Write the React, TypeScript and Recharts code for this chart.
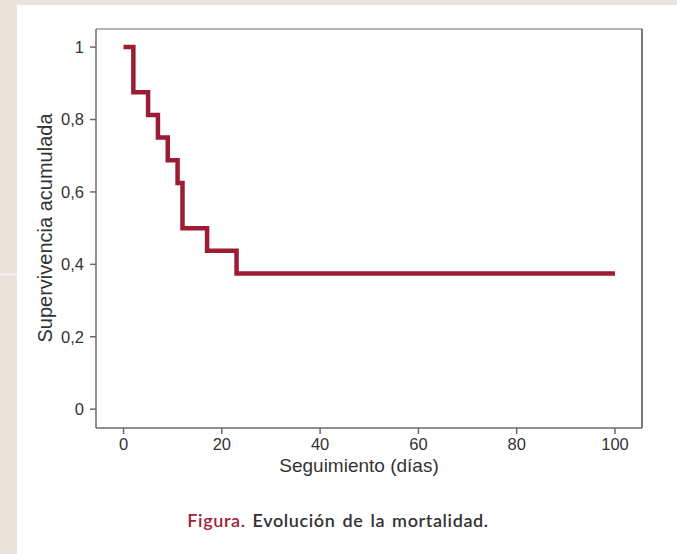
import React from "react";
import { LineChart, Line, XAxis, YAxis, ReferenceLine } from "recharts";

const days = [0, 2, 5, 7, 9, 11, 12, 17, 23, 100];
const survival = [1, 0.875, 0.8125, 0.75, 0.6875, 0.625, 0.5, 0.4375, 0.375, 0.375];
const xTicks = [0, 20, 40, 60, 80, 100];
const yTicks = [0, 0.2, 0.4, 0.6, 0.8, 1];
const xTitle = "Seguimiento (días)";
const yTitle = "Supervivencia acumulada";
const captionLead = "Figura.";
const captionText = " Evolución de la mortalidad.";

const data = days.map((t, i) => ({ t, s: survival[i] }));

const W = 677;
const H = 554;
const AXIS = "#6a6a6a";
const FONT = "'Liberation Sans', Arial, sans-serif";
const xDomain: [number, number] = [-5.6, 105.5];
const yDomain: [number, number] = [-0.052, 1.05];

const fmtY = (v: number) => String(Math.round(v * 10) / 10).replace(".", ",");

export default function App() {
  return (
    <div style={{ position: "absolute", left: 0, top: 0, width: W, height: H, background: "#e9e3dc", overflow: "hidden" }}>
      <div style={{ position: "absolute", left: 0, top: 273, width: 17, height: 3, background: "#f1ede8" }} />
      <div style={{ position: "absolute", left: 17, top: 5, width: W - 17, height: H - 5, background: "#ffffff" }} />
      <div style={{ position: "absolute", left: 0, top: 0 }}>
        <LineChart width={W} height={H} data={data} margin={{ top: 29, right: 35, left: 36, bottom: 96 }}>
          <XAxis
            dataKey="t"
            type="number"
            domain={xDomain}
            ticks={xTicks}
            allowDataOverflow
            height={30}
            tickSize={6}
            tickMargin={4}
            stroke={AXIS}
            strokeWidth={1.5}
            tick={{ fill: "#333", fontSize: 16.5, fontFamily: FONT }}
          />
          <YAxis
            type="number"
            domain={yDomain}
            ticks={yTicks}
            allowDataOverflow
            width={60}
            tickSize={6}
            tickMargin={6}
            stroke={AXIS}
            strokeWidth={1.5}
            tickFormatter={fmtY}
            tick={{ fill: "#333", fontSize: 16.5, fontFamily: FONT }}
          />
          <ReferenceLine y={yDomain[1]} stroke="#9a9a9a" strokeWidth={1.5} ifOverflow="visible" />
          <ReferenceLine x={xDomain[1]} stroke={AXIS} strokeWidth={1.8} ifOverflow="visible" />
          <Line
            type="stepAfter"
            dataKey="s"
            stroke="#9b1c33"
            strokeWidth={4.5}
            dot={false}
            activeDot={false}
            isAnimationActive={false}
          />
        </LineChart>
      </div>
      <div style={{ position: "absolute", left: 86, width: 546, top: 455, textAlign: "center", fontFamily: FONT, fontSize: 19, color: "#333", lineHeight: "22px" }}>
        {xTitle}
      </div>
      <div
        style={{
          position: "absolute",
          left: 45 - 150,
          top: 228 - 11,
          width: 300,
          height: 22,
          lineHeight: "22px",
          textAlign: "center",
          transform: "rotate(-90deg)",
          fontFamily: FONT,
          fontSize: 20,
          color: "#333",
        }}
      >
        {yTitle}
      </div>
      <div style={{ position: "absolute", left: 138, width: 400, top: 509, textAlign: "center", fontFamily: "Lato, 'Open Sans', sans-serif", fontSize: 18, fontWeight: 600, letterSpacing: 0.6, wordSpacing: 2, color: "#333", lineHeight: "22px" }}>
        <span style={{ color: "#a1223b" }}>{captionLead}</span>
        {captionText}
      </div>
    </div>
  );
}
